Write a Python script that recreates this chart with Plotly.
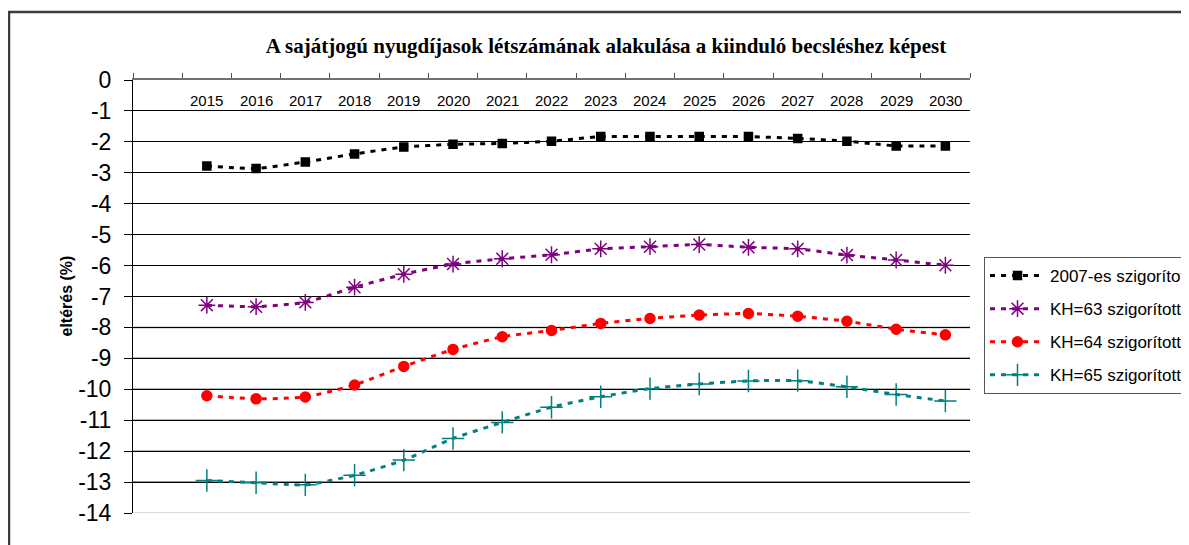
import plotly.graph_objects as go

years = [2015, 2016, 2017, 2018, 2019, 2020, 2021, 2022, 2023, 2024, 2025, 2026, 2027, 2028, 2029, 2030]
year_labels = [str(y) for y in years]

s2007 = [-2.78, -2.86, -2.65, -2.39, -2.17, -2.08, -2.05, -1.98, -1.83, -1.83, -1.83, -1.83, -1.89, -1.98, -2.13, -2.13]
kh63 = [-7.28, -7.33, -7.19, -6.70, -6.28, -5.95, -5.78, -5.65, -5.46, -5.39, -5.32, -5.41, -5.46, -5.66, -5.82, -5.99]
kh64 = [-10.21, -10.31, -10.25, -9.86, -9.26, -8.71, -8.30, -8.10, -7.87, -7.71, -7.60, -7.55, -7.64, -7.80, -8.06, -8.24]
kh65 = [-12.95, -13.02, -13.09, -12.78, -12.29, -11.59, -11.07, -10.58, -10.24, -9.98, -9.83, -9.73, -9.72, -9.92, -10.17, -10.38]

names = ["2007-es szigorított", "KH=63 szigorított", "KH=64 szigorított", "KH=65 szigorított"]
series = [s2007, kh63, kh64, kh65]
colors = ["#000000", "#800080", "#ff0000", "#008080"]
symbols = ["square", "asterisk-open", "circle", "cross-thin-open"]
msizes = [8, 14, 10, 16]

y_ticks = list(range(0, -15, -1))
grey_grid = list(range(-8, -14, -1))

# the page body has an 8px margin; target pixel positions are shifted by it
OFF = 8
W, H = 1189 - OFF, 545 - OFF
L, R, T, B = 133 - OFF, 970 - OFF, 80 - OFF, 513 - OFF


def px(x):
    return (x - OFF - L) / (R - L)


def py(y):
    return (B - (y - OFF)) / (B - T)


fig = go.Figure()
for name, vals, c, sym, ms in zip(names, series, colors, symbols, msizes):
    fig.add_trace(go.Scatter(
        x=years, y=vals, name=name, mode="lines+markers",
        legendgroup=name,
        line=dict(color=c, width=3, dash="5px,6px", shape="spline", smoothing=0.5),
        marker=dict(symbol=sym, size=ms, color=c, line=dict(color=c, width=1.5)),
    ))

shapes = []
for g in grey_grid:
    shapes.append(dict(type="line", xref="paper", yref="y", x0=0, x1=1, y0=g, y1=g,
                       line=dict(color="#707070", width=1.5), layer="below"))
shapes.append(dict(type="line", xref="paper", yref="y", x0=0, x1=1, y0=-14, y1=-14,
                   line=dict(color="#d9d9d9", width=2), layer="below"))
shapes.append(dict(type="rect", xref="paper", yref="paper",
                   x0=px(9), x1=px(1300), y0=py(12), y1=py(700),
                   line=dict(color="#3c3c3c", width=2.5), fillcolor="rgba(0,0,0,0)"))

annotations = [dict(text="<b>eltérés (%)</b>", xref="paper", yref="paper",
                    x=px(66), xanchor="center", y=0.5, yanchor="middle",
                    textangle=-90, showarrow=False,
                    font=dict(size=16, family="Arial, Liberation Sans"))]
for yr, lab in zip(years, year_labels):
    annotations.append(dict(text=lab, x=yr, xref="x", y=py(100), yref="paper",
                            xanchor="center", yanchor="middle", showarrow=False,
                            font=dict(size=15, family="Arial, Liberation Sans", color="black")))

fig.update_layout(
    width=W, height=H,
    margin=dict(l=L, r=W - R, t=T, b=H - B, autoexpand=False),
    paper_bgcolor="white", plot_bgcolor="white",
    font=dict(family="Arial, Liberation Sans", color="black"),
    title=dict(text="<b>A sajátjogú nyugdíjasok létszámának alakulása a kiinduló becsléshez képest</b>",
               x=(606 - OFF) / W, xanchor="center", y=1 - (46 - OFF) / H, yanchor="middle", yref="container",
               font=dict(family="Liberation Serif", size=21, color="black")),
    showlegend=True,
    legend=dict(x=px(984), xanchor="left", y=py(257), yanchor="top",
                bordercolor="#555555", borderwidth=1, bgcolor="white",
                font=dict(size=17, family="Arial, Liberation Sans"),
                itemwidth=55, tracegroupgap=8, traceorder="grouped"),
    shapes=shapes,
    annotations=annotations,
)

fig.update_xaxes(
    range=[2013.5, 2030.5], side="top",
    tickvals=years, ticks="", showticklabels=False,
    showline=True, linecolor="#707070", linewidth=1.5,
    showgrid=False, zeroline=False,
    minor=dict(tick0=2013.5, dtick=1, ticks="outside", ticklen=5, tickcolor="#505050", showgrid=False),
)
fig.update_yaxes(
    range=[-14, 0], tickvals=y_ticks, ticktext=[str(v) for v in y_ticks],
    ticks="outside", ticklen=8, tickcolor="black",
    tickfont=dict(size=23), ticklabelstandoff=8,
    showline=True, linecolor="black", linewidth=1,
    showgrid=True, gridcolor="black", gridwidth=1, zeroline=False,
)

fig.write_html("out.html")
